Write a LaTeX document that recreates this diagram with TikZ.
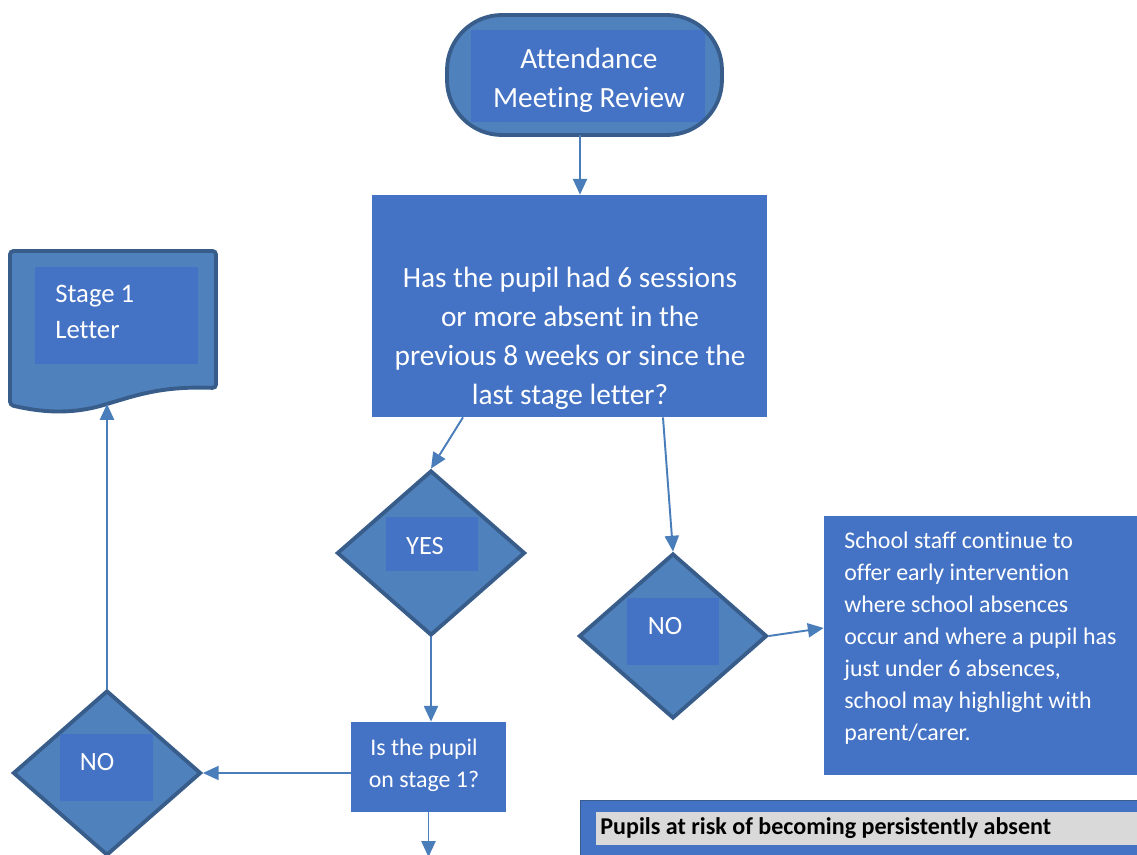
\documentclass[tikz,border=0pt]{standalone}
\usepackage{fontspec}
\setmainfont{Carlito}[Ligatures=NoCommon]
\usetikzlibrary{shapes.geometric,arrows.meta}
\definecolor{outerblue}{HTML}{4F81BD}
\definecolor{darkblue}{HTML}{385D8A}
\definecolor{innerblue}{HTML}{4472C4}
\definecolor{arrowblue}{HTML}{4A7EBB}
\definecolor{lgray}{HTML}{D9D9D9}
\begin{document}
\begin{tikzpicture}[x=0.02cm,y=-0.02cm,
  shapeborder/.style={fill=outerblue, draw=darkblue, line width=2.2pt},
  innerrect/.style={fill=innerblue, inner sep=0pt},
  conn/.style={draw=arrowblue, line width=1.1pt, -{Triangle[width=8pt,length=9pt]}},
  bigtxt/.style={text=white, font=\fontsize{16.7}{22.2}\selectfont, align=center, inner sep=0pt},
  midtxt/.style={text=white, font=\fontsize{13.6}{18.25}\selectfont, inner sep=0pt},
  labtxt/.style={text=white, font=\fontsize{15}{16}\selectfont, inner sep=0pt},
  diam/.style={shape=diamond, shapeborder, minimum width=3.76cm, minimum height=3.3cm, inner sep=0pt}]
\useasboundingbox (0,0) rectangle (1137,855);
\fill[white] (0,0) rectangle (1137,855);

% terminator
\node[fill=outerblue, rounded corners=1.1cm, minimum width=5.5cm, minimum height=2.4cm, inner sep=0pt] (term) at (584.5,75) {};
\node[innerrect, minimum width=4.7cm, minimum height=1.84cm] (termin) at (588,76) {};
\node[draw=darkblue, line width=2.2pt, rounded corners=1.1cm, minimum width=5.5cm, minimum height=2.4cm, inner sep=0pt] (termb) at (584.5,75) {};
\node[bigtxt] (termtxt) at (589,80) {Attendance\\Meeting Review};

% main question box
\node[innerrect, minimum width=7.9cm, minimum height=4.44cm] (box1) at (569.5,306) {};
\node[bigtxt] (box1txt) at (570,338) {Has the pupil had 6 sessions\\or more absent in the\\previous 8 weeks or since the\\last stage letter?};

% YES diamond
\node[diam] (yes) at (431,553) {};
\node[innerrect, minimum width=1.84cm, minimum height=1.08cm] (yesin) at (432,544) {};
\node[labtxt] (yestxt) at (425,546) {YES};

% NO diamond (right)
\node[diam] (no) at (673,636) {};
\node[innerrect, minimum width=1.84cm, minimum height=1.34cm] (noin) at (673,631.5) {};
\node[labtxt] (notxt) at (665,626) {NO};

% right text box
\node[innerrect, minimum width=6.52cm, minimum height=5.18cm] (tb) at (987,645.5) {};
\node[midtxt, anchor=west, align=left] (tbtxt) at (844,638) {School staff continue to\\offer early intervention\\where school absences\\occur and where a pupil has\\just under 6 absences,\\school may highlight with\\parent/carer.};

% stage 1 question box
\node[innerrect, minimum width=3.1cm, minimum height=1.8cm] (s1q) at (428.5,767) {};
\node[midtxt, align=center] (s1qtxt) at (424,765) {Is the pupil\\on stage 1?};

% left NO diamond
\node[diam] (nol) at (107,773) {};
\node[innerrect, minimum width=1.86cm, minimum height=1.34cm] (nolin) at (106.5,767.5) {};
\node[labtxt] (noltxt) at (97,762) {NO};

% document shape
\draw[shapeborder, rounded corners=2pt] (10,251) -- (216,251) -- (216,388)
  .. controls (165,386) and (140,394) .. (107,404)
  .. controls (70,415) and (40,412) .. (10,405) -- cycle;
\coordinate (docb) at (107,404);
\node[innerrect, minimum width=3.26cm, minimum height=1.94cm] (docin) at (116.5,315.5) {};
\node[text=white, font=\fontsize{15.2}{20.4}\selectfont, inner sep=0pt, anchor=west, align=left] (doctxt) at (55,312) {Stage 1\\Letter};

% bottom header box
\node[fill=innerblue, draw=darkblue, line width=0.6pt, minimum width=11.4cm, minimum height=1.18cm, inner sep=0pt] (pbox) at (865,830) {};
\node[fill=lgray, minimum width=11.08cm, minimum height=0.66cm, inner sep=0pt] (pin) at (873,828.5) {};
\node[anchor=west, inner sep=0pt, font=\fontsize{13.7}{15}\selectfont\bfseries] (ptxt) at (600,828) {Pupils at risk of becoming persistently absent};

% connectors
\coordinate (offb) at (429,857);
\draw[conn] ([xshift=-0.09cm]term.south) -- ([xshift=-0.09cm]term.south |- box1.north);
\draw[conn] ([xshift=-2.13cm]box1.south) -- (yes.north);
\draw[conn] ([xshift=1.87cm]box1.south) -- (no.north);
\draw[conn] (no.east) -- ([yshift=0.35cm]tb.west);
\draw[conn] (yes.south) -- (yes.south |- s1q.north);
\draw[conn] (s1q.west |- nol.east) -- (nol.east);
\draw[conn] (nol.north) -- (docb);
\draw[conn] (s1q.south) -- (s1q.south |- offb);
\end{tikzpicture}
\end{document}
